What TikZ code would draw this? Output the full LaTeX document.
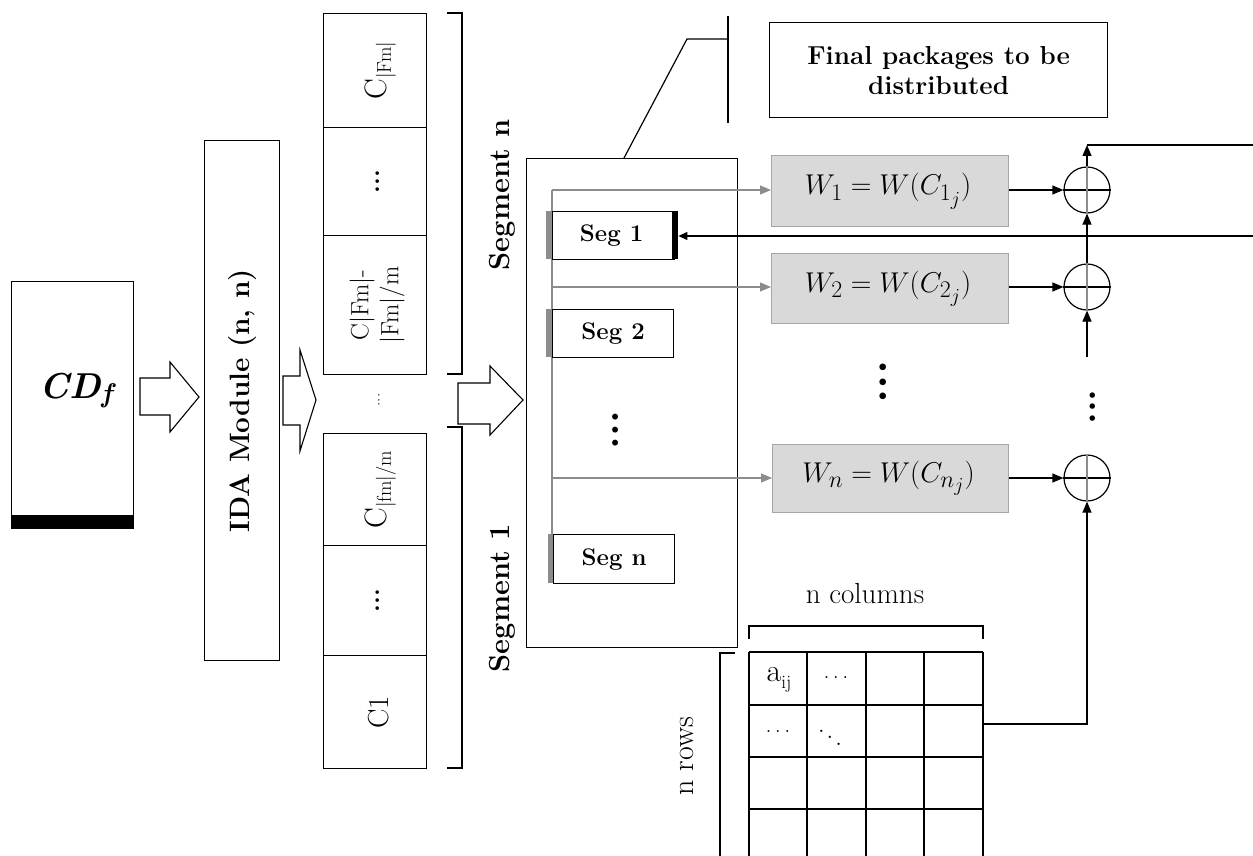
\documentclass[tikz,border=0pt]{standalone}
\usepackage{amsmath}
\usepackage{graphicx}
\usepackage{fontspec}
\usetikzlibrary{arrows.meta}
\newcommand\fsz[2]{\fontsize{#1}{#2}\selectfont}
\definecolor{wfill}{HTML}{D9D9D9}
\definecolor{wline}{HTML}{A6A6A6}
\definecolor{spine}{HTML}{8C8C8C}
\begin{document}
\begin{tikzpicture}[x=1pt,y=-1pt,
  bx/.style={draw, line width=1.2pt, inner sep=0pt, anchor=north west},
  wbox/.style={draw=wline, fill=wfill, line width=1.2pt, inner sep=0pt, anchor=north west},
  bar/.style={inner sep=0pt, anchor=north west, minimum width=6pt},
  blockarrow/.style={draw, line width=1.1pt, fill=white},
  plainline/.style={line width=1.2pt},
  barrow/.style={line width=1.2pt, -{Triangle[length=11pt,width=9pt]}},
  garrow/.style={draw=spine, line width=1.2pt, -{Triangle[length=11pt,width=9pt]}},
  oplus/.style={circle, draw, line width=1.2pt, minimum size=46pt, inner sep=0pt},
  rottext/.style={rotate=90, inner sep=0pt, align=center},
  segtext/.style={font=\fsz{24}{26}\bfseries},
  wtext/.style={font=\fsz{24.88}{26}},
  ]
\useasboundingbox (0,0) rectangle (1253,856);

% CD_f block
\node[bx, minimum width=122pt, minimum height=247pt] (cd) at (11,281) {};
\node[bar, fill=black, minimum width=122pt, minimum height=13pt] (cdbar) at (11,515) {};
\node[font=\fsz{36}{36}\bfseries\itshape] (cdt) at (76,391) {CD\raisebox{-0.25ex}{\fsz{27}{27}f}};

% block arrows
\draw[blockarrow] (140,378)--(170,378)--(170,362)--(199,397)--(170,432)--(170,415)--(140,415)--cycle;
\draw[blockarrow] (283,376)--(300,376)--(300,350)--(316,400)--(300,451)--(300,425)--(283,425)--cycle;
\draw[blockarrow] (458,383)--(490,383)--(490,366)--(523,400)--(490,435)--(490,424)--(458,424)--cycle;

% IDA module
\node[bx, minimum width=75pt, minimum height=520pt] (ida) at (204,140) {};
\node[rottext, font=\fsz{28}{30}\bfseries] (idat) at (ida.center) {IDA Module (n, n)};

% column stacks
\node[bx, minimum width=103pt, minimum height=114pt] (ca) at (323,13) {};
\node[bx, minimum width=103pt, minimum height=108pt] (cb) at (323,127) {};
\node[bx, minimum width=103pt, minimum height=139pt] (cc) at (323,235) {};
\node[bx, minimum width=103pt, minimum height=112pt] (cdd) at (323,433) {};
\node[bx, minimum width=103pt, minimum height=110pt] (ce) at (323,545) {};
\node[bx, minimum width=103pt, minimum height=113pt] (cf) at (323,655) {};
\node[rottext, font=\fsz{31}{31}] at ([xshift=5pt]ca.center) {C\raisebox{-0.35ex}{\fsz{20}{20}|Fm|}};
\node[rottext, font=\fsz{25}{25}\bfseries] at ([xshift=3pt]cb.center) {...};
\node[rottext, font=\fsz{25}{30}] at ([xshift=2pt]cc.center) {C|Fm|-\\|Fm|/m};
\node[rottext, font=\fsz{17}{17}] at (379,400) {...};
\node[rottext, font=\fsz{31}{31}] at ([xshift=5pt]cdd.center) {C\raisebox{-0.35ex}{\fsz{20}{20}|fm|/m}};
\node[rottext, font=\fsz{25}{25}\bfseries] at ([xshift=3pt]ce.center) {...};
\node[rottext, font=\fsz{29}{30}] at ([xshift=3pt]cf.center) {C1};

% brackets
\draw[plainline] (447,13)--(462,13)--(462,374)--(447,374);
\draw[plainline] (447,427)--(462,427)--(462,768)--(447,768);
\node[rottext, font=\fsz{29}{30}\bfseries] at (502,195) {Segment n};
\node[rottext, font=\fsz{29}{30}\bfseries] at (502,598) {Segment 1};

% outer segment box
\node[bx, minimum width=211pt, minimum height=489pt] (outer) at (526,158) {};
\coordinate (cl) at (624,158);
\coordinate (clt) at (687,39);
\coordinate (clr) at (728,39);
\coordinate (vt) at (728,16);
\coordinate (vb) at (728,123);
\draw[plainline] (cl) -- (clt) -- (clr);
\draw[plainline] (vt) -- (vb);

% final packages
\node[bx, minimum width=338pt, minimum height=95pt] (fin) at (769,22) {};
\node[align=center, font=\fsz{26}{30}\bfseries] at (fin.center) {Final packages to be\\distributed};

% spine
\coordinate (s1) at (552,190);
\coordinate (s2) at (552,287);
\coordinate (s3) at (552,478);
\coordinate (sb) at (552,534);
\draw[draw=spine, line width=1.2pt] (s1) -- (sb);

% seg boxes
\node[bx, minimum width=122pt, minimum height=48pt] (seg1) at (552,211) {};
\node[bar, fill=spine, minimum height=48pt] (seg1g) at (546,211) {};
\node[bar, fill=black, minimum height=48pt] (seg1b) at (672,211) {};
\node[segtext] at ([xshift=-2pt]seg1.center) {Seg 1};
\node[bx, minimum width=121pt, minimum height=48pt] (seg2) at (552,309) {};
\node[bar, fill=spine, minimum height=48pt] (seg2g) at (546,309) {};
\node[segtext] at (seg2.center) {Seg 2};
\node[bx, minimum width=121pt, minimum height=49pt] (segn) at (553,534) {};
\node[bar, fill=spine, minimum width=5pt, minimum height=49pt] (segng) at (548,534) {};
\node[segtext] at (segn.center) {Seg n};
\node[rottext, font=\fsz{41}{41}\bfseries] at (616,430) {...};

% W boxes
\node[wbox, minimum width=237pt, minimum height=71pt] (w1) at (771,155) {};
\node[wtext] at ([xshift=-2pt]w1.center) {\scalebox{1.15}{$W_1 = W(C_{1_j})$}};
\node[wbox, minimum width=237pt, minimum height=70pt] (w2) at (771,253) {};
\node[wtext] at ([xshift=-2pt]w2.center) {\scalebox{1.15}{$W_2 = W(C_{2_j})$}};
\node[wbox, minimum width=236pt, minimum height=68pt] (wn) at (772,444) {};
\node[wtext] at ([xshift=-2pt]wn.center) {\scalebox{1.15}{$W_n = W(C_{n_j})$}};
\draw[garrow] (s1) -- (s1 -| w1.west);
\draw[garrow] (s2) -- (s2 -| w2.west);
\draw[garrow] (s3) -- (s3 -| wn.west);
\node[rottext, font=\fsz{46}{46}\bfseries] at (883,382) {...};

% adders
\node[oplus] (o1) at (1087,190) {};
\node[oplus] (o2) at (1087,287) {};
\node[oplus] (on) at (1087,478) {};
\foreach \o in {o1,o2,on}{
  \draw[line width=1.2pt] (\o.west) -- (\o.east);
  \draw[line width=1.6pt, draw=spine] (\o.north) -- (\o.south);
}
\draw[barrow] (o1.west -| w1.east) -- (o1.west);
\draw[barrow] (o2.west -| w2.east) -- (o2.west);
\draw[barrow] (on.west -| wn.east) -- (on.west);
\coordinate (top) at (1087,145);
\coordinate (topR) at (1253,145);
\draw[barrow] (o1.north) -- (top);
\draw[plainline] (top) -- (topR);
\draw[barrow] (o2.north) -- (o1.south);
\coordinate (o2in) at (1087,357);
\draw[barrow] (o2in) -- (o2.south);
\coordinate (fbR) at (1253,236);
\draw[line width=1.2pt, -{Triangle[length=9pt,width=8pt]}] (fbR) -- (fbR -| seg1b.east);
\node[rottext, font=\fsz{38}{38}\bfseries] at (1093,407) {...};

% matrix
\foreach \x in {749,807,866,924,983}{ \draw[plainline] (\x,652) -- (\x,856); }
\foreach \y in {652,705,757,809}{ \draw[plainline] (749,\y) -- (983,\y); }
\coordinate (matR) at (983,724);
\draw[barrow] (matR) -| (on.south);
\node[font=\fsz{32}{32}] at (779,680) {a\raisebox{-0.55ex}{\fsz{19}{19}ij}};
\node[font=\fsz{24}{24}] at (836,678) {.\hspace{3.5pt}.\hspace{3.5pt}.};
\node[font=\fsz{24}{24}] at (778,732) {.\hspace{3.5pt}.\hspace{3.5pt}.};
\node at (830,731) {\scalebox{2.2}{$\ddots$}};
\draw[plainline] (749,639) -- (749,626) -- (983,626) -- (983,639);
\node[font=\fsz{29}{29}] at (865,594) {n columns};
\draw[plainline] (735,653) -- (720,653) -- (720,856);
\node[rottext, font=\fsz{30}{30}] at (687,756) {n rows};
\end{tikzpicture}
\end{document}
